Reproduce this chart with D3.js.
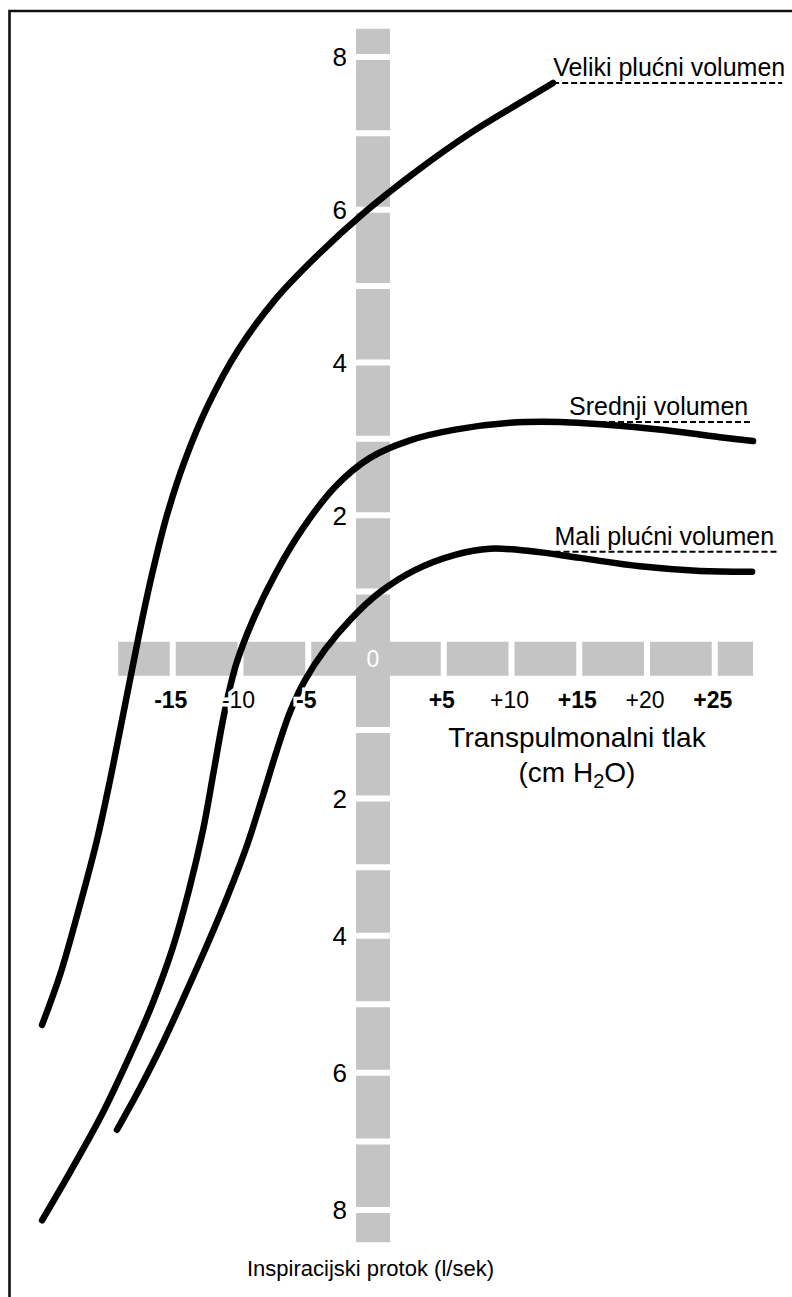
<!DOCTYPE html>
<html>
<head>
<meta charset="utf-8">
<script src="https://cdn.jsdelivr.net/npm/d3@7"></script>
<style>
  body { margin: 0; background: #fff; }
  svg { display: block; font-family: "Liberation Sans", Arial, Helvetica, sans-serif; }
</style>
</head>
<body>
<div id="chart"></div>
<script>
// transpulmonalni tlak (cm H2O) i protok (l/sek), ocitano sa slike
const velikiPressure = [-24.72, -23.39, -21.92, -20.66, -19.70, -18.82, -18.08, -17.34, -16.53, -15.50, -14.17, -12.47, -10.26, -7.53, -4.35, -0.89, 2.80, 6.86, 10.55, 12.99];
const velikiFlow     = [-5.30, -4.57, -3.55, -2.60, -1.73, -0.86, -0.13, 0.59, 1.28, 2.00, 2.72, 3.44, 4.16, 4.82, 5.41, 5.97, 6.49, 7.00, 7.40, 7.66];

const srednjiPressure = [-24.72, -22.66, -20.44, -18.38, -16.61, -15.13, -13.87, -12.84, -12.03, -11.29, -10.41, -9.15, -7.53, -5.54, -3.10, -0.52, 2.44, 5.76, 9.82, 13.51, 17.93, 22.36, 25.31, 27.75];
const srednjiFlow     = [-8.15, -7.45, -6.66, -5.81, -5.01, -4.21, -3.33, -2.46, -1.58, -0.78, -0.06, 0.59, 1.22, 1.81, 2.37, 2.75, 2.98, 3.12, 3.21, 3.22, 3.17, 3.09, 3.02, 2.97];

const maliPressure = [-19.19, -17.49, -15.87, -14.17, -12.55, -11.00, -9.59, -8.41, -7.38, -6.42, -5.31, -3.84, -1.99, 0.22, 2.80, 5.76, 8.34, 11.29, 14.98, 19.41, 23.84, 27.68];
const maliFlow     = [-6.83, -6.22, -5.59, -4.86, -4.14, -3.41, -2.68, -1.95, -1.29, -0.74, -0.28, 0.16, 0.59, 0.99, 1.28, 1.48, 1.56, 1.53, 1.44, 1.33, 1.27, 1.26];

const curveNames  = ["Veliki plućni volumen", "Srednji volumen", "Mali plućni volumen"];
const plateauFlow = [7.66, 3.22, 1.52];
const plateauFrom = [13.0, 13.8, 13.1];
const plateauTo   = [29.9, 27.75, 29.7];

const pressureTicks = [-15, -10, -5, 5, 10, 15, 20, 25];
const flowTicks = [8, 6, 4, 2, -2, -4, -6, -8];
const flowGaps = [8, 7, 6, 5, 4, 3, 2, 1, -1, -2, -3, -4, -5, -6, -7, -8];
const pressureGaps = [-15, -10, -5, 5, 10, 15, 20, 25];

const width = 792, height = 1297;
const barColor = "#c4c4c4";
const barW = 34;

const svg = d3.select("#chart").append("svg")
    .attr("width", width)
    .attr("height", height);

// x: tlak, y: protok (gore i dolje razlicita mjerila)
const x = d3.scaleLinear().domain([-15, 25]).range([173.75, 715.75]);
const y = d3.scaleLinear().domain([8, 1, -1, -8]).range([57, 591.5, 730, 1210]);

// okvir
svg.append("path")
    .attr("d", `M9.5,${height} V11 H${width}`)
    .attr("fill", "none")
    .attr("stroke", "#111")
    .attr("stroke-width", 2.6);

// sivi "osi"
const vx = x(0) - 4;    // sredina okomite trake
const hy = y(0) - 2;    // sredina vodoravne trake
const bars = svg.append("g");

bars.append("rect")
    .attr("x", vx - barW / 2)
    .attr("y", y(8.37))
    .attr("width", barW)
    .attr("height", y(-8.47) - y(8.37))
    .attr("fill", barColor);

bars.append("rect")
    .attr("x", x(-19.1))
    .attr("y", hy - barW / 2)
    .attr("width", x(27.75) - x(-19.1))
    .attr("height", barW)
    .attr("fill", barColor);

bars.selectAll(".vgap")
    .data(flowGaps)
    .enter()
    .append("line")
    .attr("class", "vgap")
    .attr("x1", vx - barW / 2 - 1).attr("x2", vx + barW / 2 + 1)
    .attr("y1", d => y(d)).attr("y2", d => y(d))
    .attr("stroke", "#fff")
    .attr("stroke-width", 6);

bars.selectAll(".hgap")
    .data(pressureGaps)
    .enter()
    .append("line")
    .attr("class", "hgap")
    .attr("y1", hy - barW / 2 - 1).attr("y2", hy + barW / 2 + 1)
    .attr("x1", d => x(d) - 1).attr("x2", d => x(d) - 1)
    .attr("stroke", "#fff")
    .attr("stroke-width", 6);

bars.append("text")
    .attr("x", vx)
    .attr("y", hy + 8)
    .attr("text-anchor", "middle")
    .attr("fill", "#fff")
    .style("font-size", "23px")
    .text("0");

// krivulje
const line = d3.line()
    .x(d => x(d[0]))
    .y(d => y(d[1]))
    .curve(d3.curveCatmullRom.alpha(0.5));

const curves = [
    d3.zip(velikiPressure, velikiFlow),
    d3.zip(srednjiPressure, srednjiFlow),
    d3.zip(maliPressure, maliFlow)
];

svg.append("g").selectAll("path")
    .data(curves)
    .enter()
    .append("path")
    .attr("d", line)
    .attr("fill", "none")
    .attr("stroke", "#000")
    .attr("stroke-width", 6.5)
    .attr("stroke-linecap", "round")
    .attr("stroke-linejoin", "round");

// isprekidane linije i nazivi
const legend = svg.append("g");
curveNames.forEach((name, i) => {
    legend.append("line")
        .attr("x1", x(plateauFrom[i])).attr("x2", x(plateauTo[i]))
        .attr("y1", y(plateauFlow[i])).attr("y2", y(plateauFlow[i]))
        .attr("stroke", "#000")
        .attr("stroke-width", 2)
        .attr("stroke-dasharray", "6,3");
    legend.append("text")
        .attr("x", x(plateauFrom[i]) + (i === 1 ? 5 : 0))
        .attr("y", y(plateauFlow[i]) - 7)
        .style("font-size", "25px")
        .text(name);
});

// oznake na osi tlaka
svg.append("g").selectAll("text")
    .data(pressureTicks)
    .enter()
    .append("text")
    .attr("x", d => x(d) - 3)
    .attr("y", 708)
    .attr("text-anchor", "middle")
    .attr("fill", "#000")
    .attr("stroke", "#fff")
    .attr("stroke-width", 7)
    .attr("paint-order", "stroke")
    .style("font-size", "23px")
    .style("font-weight", d => (d / 5) % 2 !== 0 ? "bold" : "normal")
    .text(d => d > 0 ? "+" + d : d);

// oznake na osi protoka
svg.append("g").selectAll("text")
    .data(flowTicks)
    .enter()
    .append("text")
    .attr("x", vx - barW / 2 - 9)
    .attr("y", d => y(d))
    .attr("dy", "0.36em")
    .attr("text-anchor", "end")
    .style("font-size", "26px")
    .text(d => Math.abs(d));

// naslovi osi
svg.append("text")
    .attr("x", 577)
    .attr("y", 747)
    .attr("text-anchor", "middle")
    .style("font-size", "28px")
    .text("Transpulmonalni tlak");

const unit = svg.append("text")
    .attr("x", 577)
    .attr("y", 782)
    .attr("text-anchor", "middle")
    .style("font-size", "28px");
unit.append("tspan").text("(cm H");
unit.append("tspan").attr("dy", 6).style("font-size", "20px").text("2");
unit.append("tspan").attr("dy", -6).text("O)");

svg.append("text")
    .attr("x", 247)
    .attr("y", 1276)
    .style("font-size", "22px")
    .text("Inspiracijski protok (l/sek)");
</script>
</body>
</html>
